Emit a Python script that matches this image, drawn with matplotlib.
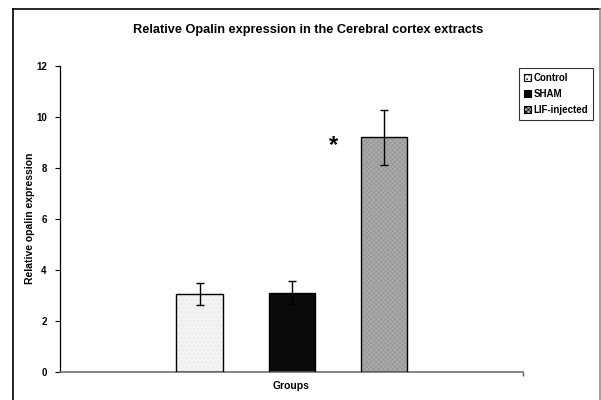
import matplotlib
matplotlib.use("Agg")
import matplotlib.pyplot as plt
from matplotlib.patches import Patch
from matplotlib.lines import Line2D

plt.rcParams['font.family'] = ['Liberation Sans', 'DejaVu Sans']
plt.rcParams['hatch.linewidth'] = 0.5

groups = ["Control", "SHAM", "LIF-injected"]
values = [3.03, 3.1, 9.2]
errors = [0.43, 0.45, 1.08]
colors = ["#f3f3f3", "#0a0a0a", "#ababab"]
hatches = ["....", "", "xxxxxxx"]
hatch_colors = ["#e4e4e4", "#0a0a0a", "#949494"]
yticks = [0, 2, 4, 6, 8, 10, 12]

W, H = 601, 400
fig = plt.figure(figsize=(W / 100, H / 100), dpi=100)

# outer frame
fig.add_artist(Line2D([13 / W, 13 / W], [0, 1 - 9 / H], color="black", lw=1.2, transform=fig.transFigure))
fig.add_artist(Line2D([13 / W, 599.5 / W], [1 - 9 / H, 1 - 9 / H], color="black", lw=1.2, transform=fig.transFigure))
fig.add_artist(Line2D([599.5 / W, 599.5 / W], [0, 1 - 9 / H], color="#909090", lw=1.2, transform=fig.transFigure))

ax = fig.add_axes([60 / W, (H - 371.5) / H, (523 - 60) / W, (371.5 - 66) / H])
x = list(range(len(groups)))
for i in x:
    ax.bar(i, values[i], width=0.5, color=colors[i], hatch=hatches[i],
           edgecolor=hatch_colors[i], linewidth=0, zorder=2)
    ax.bar(i, values[i], width=0.5, fill=False, edgecolor="black", linewidth=1.0, zorder=3)
ax.errorbar(x, values, yerr=errors, fmt="none", ecolor="black", elinewidth=1.0,
            capsize=3, capthick=1.0, zorder=4)

ax.text(1.45, 8.86, "*", fontsize=17, fontweight="bold", ha="center", va="center")

ax.set_xlim(-1.51, 3.5)
ax.set_ylim(0, 12)
ax.set_yticks(yticks)
ax.set_yticklabels([str(t) for t in yticks], fontsize=7, fontweight="bold")
ax.set_xticks([3.5])
ax.set_xticklabels([""])
ax.tick_params(axis="y", direction="out", length=3.5, width=0.8, pad=6)
ax.tick_params(axis="x", direction="out", length=3, width=1.0, color="#555555")
ax.spines["top"].set_visible(False)
ax.spines["right"].set_visible(False)
ax.spines["left"].set_color("black")
ax.spines["left"].set_linewidth(0.9)
ax.spines["bottom"].set_color("#707070")
ax.spines["bottom"].set_linewidth(1.2)
ax.set_ylabel("Relative opalin expression", fontsize=7.5, fontweight="bold")
ax.yaxis.set_label_coords(-30 / 463, 0.5)
ax.set_xlabel("Groups", fontsize=7.5, fontweight="bold")
ax.xaxis.set_label_coords(0.5, -(386 - 371.5) / 305.5)
ax.xaxis.label.set_va("center")
ax.yaxis.label.set_va("center")

fig.text(308 / W, 1 - 30 / H, "Relative Opalin expression in the Cerebral cortex extracts",
         ha="center", va="center", fontsize=9.2, fontweight="bold")

handles = [Patch(facecolor=colors[i], edgecolor="black", hatch=hatches[i], linewidth=0.8)
           for i in x]
leg = fig.legend(handles, groups, loc="upper left", bbox_to_anchor=(519 / W, 1 - 68 / H),
                 bbox_transform=fig.transFigure, fontsize=7, frameon=True, fancybox=False,
                 edgecolor="black", handlelength=0.7, handleheight=0.7, handletextpad=0.3,
                 borderpad=0.5, borderaxespad=0, labelspacing=0.62)
leg.get_frame().set_linewidth(0.8)
for t in leg.get_texts():
    t.set_fontweight("bold")

fig.savefig("out.png", dpi=100)
